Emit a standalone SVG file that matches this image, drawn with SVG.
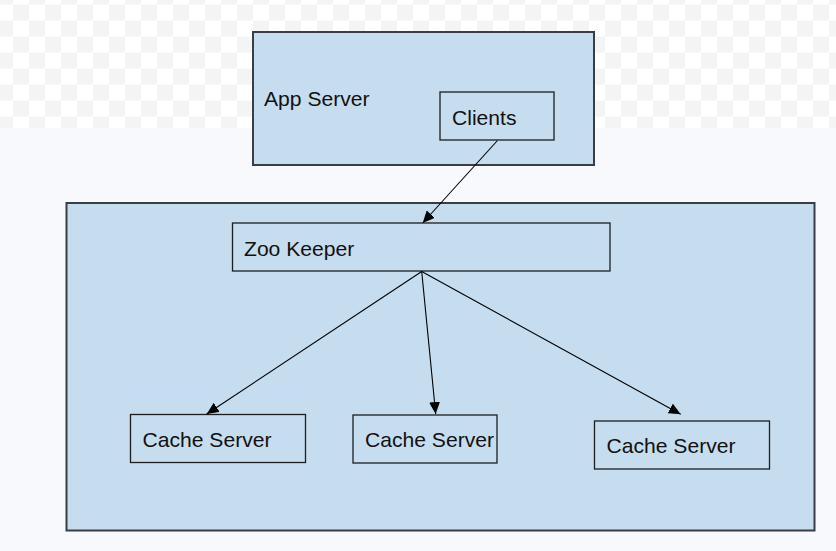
<svg xmlns="http://www.w3.org/2000/svg" width="836" height="551" viewBox="0 0 836 551">
<defs>
<pattern id="chk" x="-3" y="-11.33" width="32" height="32" patternUnits="userSpaceOnUse">
<rect width="32" height="32" fill="#ffffff"/>
<rect x="0" y="0" width="16" height="16" fill="#f4f4f4"/>
<rect x="16" y="16" width="16" height="16" fill="#f4f4f4"/>
</pattern>
<marker id="arr" markerWidth="13" markerHeight="11" refX="12" refY="5.5" orient="auto" markerUnits="userSpaceOnUse">
<path d="M0,0 L12,5.5 L0,11 Z" fill="#000"/>
</marker>
<style>
.outer{fill:#c6dcef;stroke:#3a3d43;stroke-width:2}
.box{fill:#c6dcef;stroke:#1e1e1e;stroke-width:1.3}
.t{font-family:"Liberation Sans",Arial,sans-serif;font-size:21.1px;fill:#111}
.c{stroke:#000;stroke-width:1.1;fill:none;marker-end:url(#arr)}
</style>
</defs>
<rect width="836" height="551" fill="#f8f9fd"/>
<rect width="836" height="128" fill="url(#chk)"/>
<g id="app-server">
<rect class="outer" x="253" y="32" width="341" height="133"/>
<text class="t" x="264" y="106">App Server</text>
</g>
<g id="cluster">
<rect class="outer" x="66.5" y="203" width="748" height="327.5"/>
</g>
<g id="clients">
<rect class="box" x="440" y="92" width="114" height="48"/>
<text class="t" x="452" y="124.5">Clients</text>
</g>
<g id="zookeeper">
<rect class="box" x="232.5" y="223" width="377.5" height="48"/>
<text class="t" x="244" y="256">Zoo Keeper</text>
</g>
<g id="cache1">
<rect class="box" x="130.5" y="414.5" width="175" height="48"/>
<text class="t" x="142.5" y="447">Cache Server</text>
</g>
<g id="cache2">
<rect class="box" x="353" y="415" width="144" height="48"/>
<text class="t" x="365" y="447">Cache Server</text>
</g>
<g id="cache3">
<rect class="box" x="594.5" y="421" width="175" height="48"/>
<text class="t" x="606.5" y="453">Cache Server</text>
</g>
<g id="connectors">
<line class="c" x1="497.5" y1="140.5" x2="422.7" y2="223"/>
<line class="c" x1="421.7" y1="271.5" x2="206.7" y2="414"/>
<line class="c" x1="421.7" y1="271.5" x2="435.7" y2="414"/>
<line class="c" x1="421.7" y1="271.5" x2="680.7" y2="414.3"/>
</g>
</svg>
